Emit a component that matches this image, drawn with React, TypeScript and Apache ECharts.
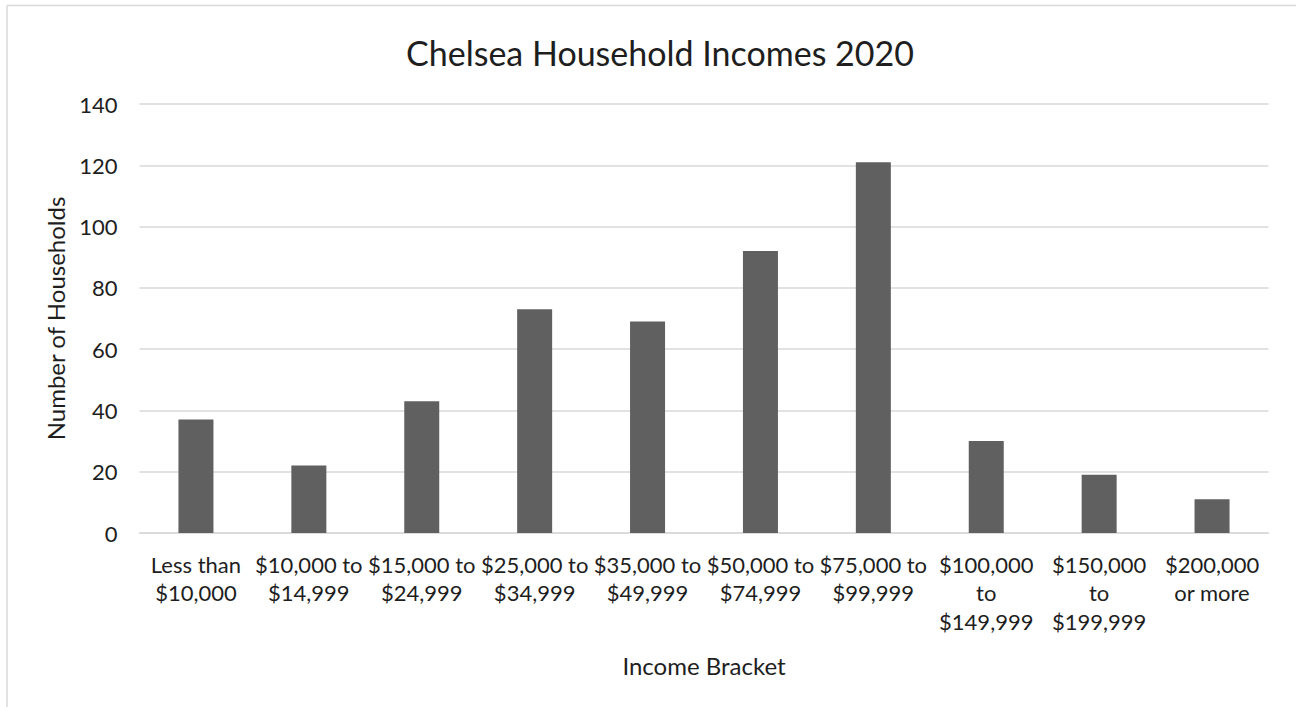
import React, { useEffect, useRef } from "react";
import * as echarts from "echarts";

const categoryLines: string[][] = [
  ["Less than", "$10,000"],
  ["$10,000 to", "$14,999"],
  ["$15,000 to", "$24,999"],
  ["$25,000 to", "$34,999"],
  ["$35,000 to", "$49,999"],
  ["$50,000 to", "$74,999"],
  ["$75,000 to", "$99,999"],
  ["$100,000", "to", "$149,999"],
  ["$150,000", "to", "$199,999"],
  ["$200,000", "or more"],
];
const households: number[] = [37, 22, 43, 73, 69, 92, 121, 30, 19, 11];
const yMin = 0;
const yMax = 140;
const yStep = 20;

const titleText = "Chelsea Household Incomes 2020";
const xTitle = "Income Bracket";
const yTitle = "Number of Households";

const FONT = "Lato, 'Open Sans', sans-serif";
const TEXT = "#1e1e1e";
const GRID = "#d9d9d9";

export default function App() {
  const ref = useRef<HTMLDivElement>(null);
  useEffect(() => {
    if (!ref.current) return;
    const chart = echarts.init(ref.current, undefined, { renderer: "svg" });
    const categories = categoryLines.map((l) => l.join("\n"));
    chart.setOption({
      animation: false,
      backgroundColor: "#ffffff",
      title: {
        text: titleText,
        left: 655,
        top: 30,
        textAlign: "center",
        textStyle: { fontFamily: FONT, fontSize: 34, fontWeight: "normal", color: TEXT },
      },
      graphic: [
        { type: "line", shape: { x1: 7, y1: 5.5, x2: 1296, y2: 5.5 }, style: { stroke: GRID, lineWidth: 1.5 } },
        { type: "line", shape: { x1: 7, y1: 5.5, x2: 7, y2: 707 }, style: { stroke: GRID, lineWidth: 1.5 } },
      ],
      grid: { left: 139.5, right: 27.5, top: 104, bottom: 174, containLabel: false },
      xAxis: {
        type: "category",
        data: categories,
        name: xTitle,
        nameLocation: "middle",
        nameGap: 120,
        nameTextStyle: { fontFamily: FONT, fontSize: 24, color: TEXT, verticalAlign: "top" },
        axisLine: { show: true, lineStyle: { color: GRID, width: 1.5 } },
        axisTick: { show: false },
        axisLabel: {
          interval: 0,
          margin: 17,
          fontFamily: FONT,
          fontSize: 22,
          lineHeight: 28.5,
          color: TEXT,
          verticalAlign: "top",
        },
      },
      yAxis: {
        type: "value",
        min: yMin,
        max: yMax,
        interval: yStep,
        name: yTitle,
        nameLocation: "middle",
        nameGap: 72,
        nameRotate: 90,
        nameTextStyle: { fontFamily: FONT, fontSize: 24, color: TEXT },
        axisLine: { show: false },
        axisTick: { show: false },
        axisLabel: { margin: 22, fontFamily: FONT, fontSize: 22, color: TEXT },
        splitLine: { lineStyle: { color: GRID, width: 1.5 } },
      },
      series: [
        {
          type: "bar",
          data: households,
          barWidth: "31%",
          itemStyle: { color: "#606060" },
        },
      ],
    });
    return () => chart.dispose();
  }, []);
  return (
    <div
      ref={ref}
      style={{ position: "absolute", left: 0, top: 0, width: 1296, height: 707 }}
    />
  );
}
